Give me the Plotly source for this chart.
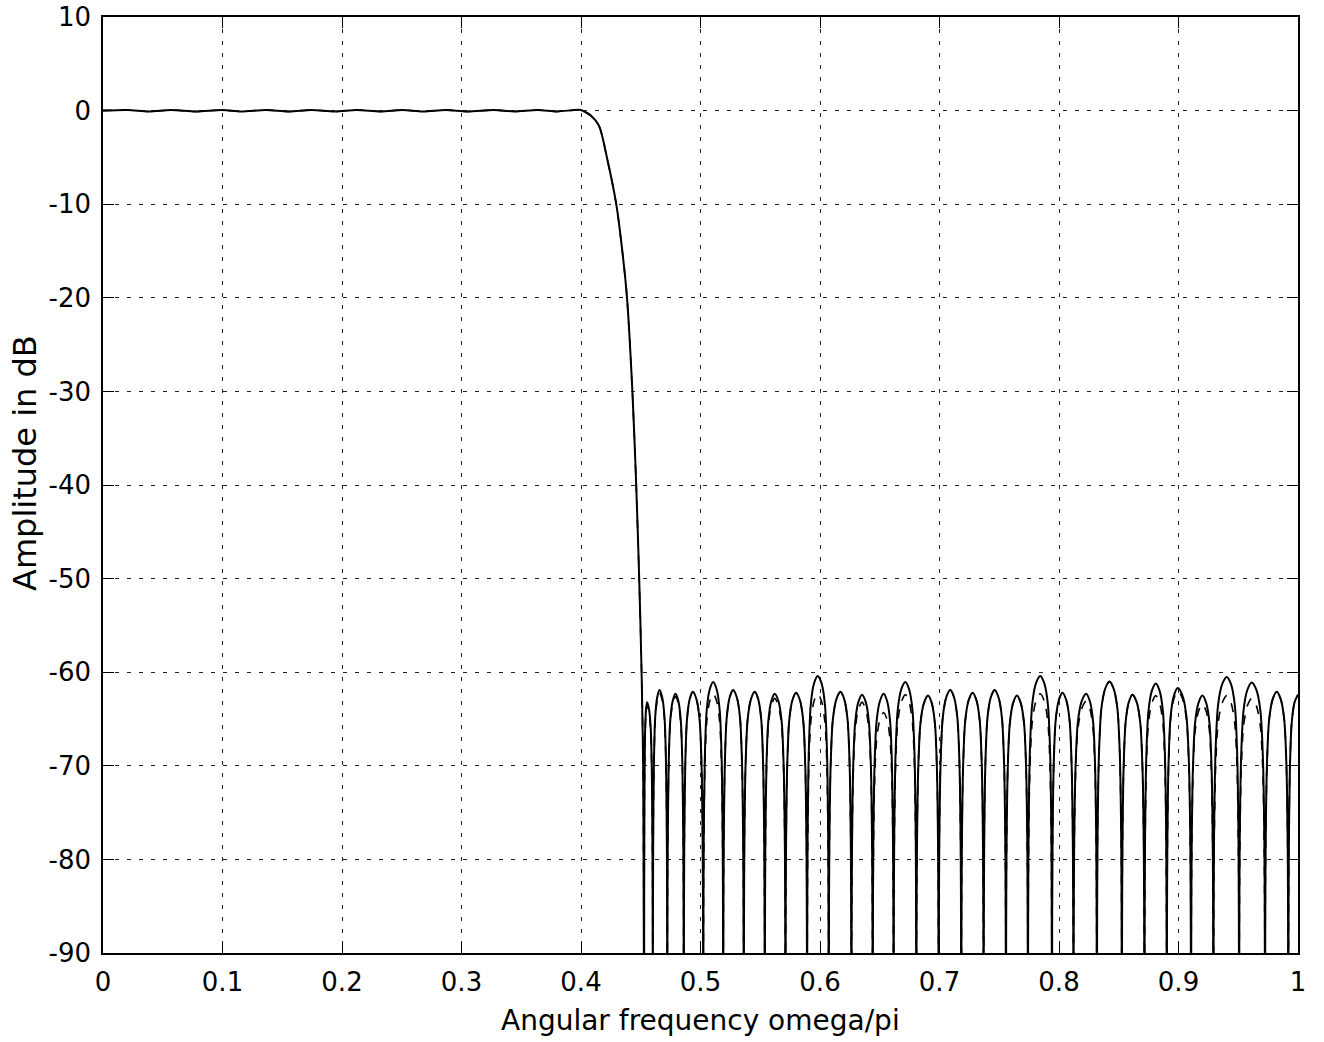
import plotly.graph_objects as go

# ---------------- data ----------------
# passband ripple extremes (normalised frequency, dB)
pass_x = [0.0, 0.0206, 0.0385, 0.0569, 0.0777, 0.1001, 0.1154, 0.1363, 0.1555,
          0.1747, 0.1940, 0.2124, 0.2324, 0.2506, 0.2676, 0.2868, 0.3049, 0.3272,
          0.3438, 0.3635, 0.3803, 0.3997]
pass_db = [0.0, 0.07, -0.09, 0.07, -0.09, 0.07, -0.09, 0.07, -0.09,
           0.07, -0.09, 0.07, -0.09, 0.07, -0.09, 0.07, -0.09, 0.07,
           -0.09, 0.07, -0.09, 0.07]

# transition band
trans_x = [0.4035, 0.4080, 0.4150, 0.4220, 0.4295, 0.4350, 0.4385, 0.4430,
           0.4462, 0.4487, 0.4507, 0.4520]
trans_db = [-0.15, -0.5, -1.6, -5.2, -10.0, -15.5, -20.0, -30.0,
            -40.0, -50.0, -60.0, -70.0]

# stopband: zero (null) positions, lobe peak positions and peak levels
null_x = [0.4528, 0.4601, 0.4722, 0.4860, 0.5023, 0.5190, 0.5362, 0.5538,
          0.5711, 0.5892, 0.6073, 0.6263, 0.6441, 0.6616, 0.6806, 0.6993,
          0.7182, 0.7369, 0.7556, 0.7740, 0.7941, 0.8121, 0.8317, 0.8526,
          0.8715, 0.8902, 0.9105, 0.9292, 0.9507, 0.9724, 0.9919]
peak_x = [0.4553, 0.4657, 0.4791, 0.4936, 0.5106, 0.5273, 0.5454, 0.5621,
          0.5800, 0.5981, 0.6171, 0.6352, 0.6533, 0.6714, 0.6904, 0.7090,
          0.7277, 0.7461, 0.7648, 0.7843, 0.8029, 0.8227, 0.8422, 0.8615,
          0.8810, 0.8994, 0.9200, 0.9404, 0.9613, 0.9822, 1.0]
solid_peak_db = [-63.2, -61.9, -62.3, -62.1, -61.05, -61.9, -62.1, -62.3,
                 -62.2, -60.4, -62.1, -62.4, -62.3, -61.05, -62.5, -61.9,
                 -62.2, -61.9, -62.5, -60.4, -62.2, -62.3, -61.0, -62.4,
                 -61.2, -61.7, -62.5, -60.5, -61.1, -62.1, -62.4]
dashed_peak_db = [-63.5, -62.2, -62.6, -62.1, -62.3, -61.9, -62.1, -62.8,
                  -62.2, -62.3, -62.1, -63.2, -64.3, -62.4, -62.5, -61.9,
                  -62.2, -61.9, -62.5, -62.3, -62.2, -63.1, -61.0, -62.4,
                  -62.5, -62.0, -63.4, -62.5, -62.8, -62.1, -62.4]
null_db = -100.0

# typical lobe profile: fraction of half-lobe width
# from the null, and dB below the lobe peak
lobe_frac = [0.02, 0.05, 0.16, 0.35, 0.65]
lobe_drop = [25.0, 17.0, 8.0, 3.0, 0.8]

x_ticks = [0, 0.1, 0.2, 0.3, 0.4, 0.5, 0.6, 0.7, 0.8, 0.9, 1]
x_tick_text = ["0", "0.1", "0.2", "0.3", "0.4", "0.5", "0.6", "0.7", "0.8", "0.9", "1"]
y_ticks = [-90, -80, -70, -60, -50, -40, -30, -20, -10, 0, 10]
y_tick_text = ["-90", "-80", "-70", "-60", "-50", "-40", "-30", "-20", "-10", "0", "10"]


def build(peaks):
    xs = list(pass_x) + list(trans_x)
    ys = list(pass_db) + list(trans_db)
    n = len(null_x)
    for i in range(n):
        a, p, v = null_x[i], peak_x[i], peaks[i]
        xs.append(a)
        ys.append(null_db)
        left = p - a
        for f, d in zip(lobe_frac, lobe_drop):
            xs.append(a + f * left)
            ys.append(v - d)
        xs.append(p)
        ys.append(v)
        if i + 1 < n:
            b = null_x[i + 1]
            right = b - p
            for f, d in zip(reversed(lobe_frac), reversed(lobe_drop)):
                xs.append(b - f * right)
                ys.append(v - d)
    return xs, ys


dx, dy = build(dashed_peak_db)
sx, sy = build(solid_peak_db)

fig = go.Figure()
fig.add_trace(go.Scatter(x=dx, y=dy, mode="lines",
                         line=dict(color="black", width=1.6, dash="dash",
                                   shape="spline", smoothing=0.8),
                         hoverinfo="skip", showlegend=False))
fig.add_trace(go.Scatter(x=sx, y=sy, mode="lines",
                         line=dict(color="black", width=2.0,
                                   shape="spline", smoothing=0.8),
                         hoverinfo="skip", showlegend=False))

font_family = "DejaVu Sans"
axis_common = dict(
    showline=True, linecolor="black", linewidth=1.5, mirror="ticks",
    ticks="inside", ticklen=11, tickwidth=1.2, tickcolor="black",
    showgrid=True, gridcolor="#222", gridwidth=1, griddash="4px,8px",
    zeroline=False,
    tickfont=dict(family=font_family, size=26, color="black"),
)

fig.update_xaxes(range=[0, 1], tickvals=x_ticks, ticktext=x_tick_text,
                 ticklabelstandoff=5, **axis_common)
fig.update_yaxes(range=[-90, 10], tickvals=y_ticks, ticktext=y_tick_text,
                 ticklabelstandoff=5, **axis_common)

fig.add_annotation(text="Angular frequency omega/pi",
                   xref="paper", yref="paper", x=0.5, y=-0.0716,
                   xanchor="center", yanchor="middle", showarrow=False,
                   font=dict(family=font_family, size=28, color="black"))
fig.add_annotation(text="Amplitude in dB", textangle=-90,
                   xref="paper", yref="paper", x=-0.0653, y=0.5235,
                   xanchor="center", yanchor="middle", showarrow=False,
                   font=dict(family=font_family, size=32, color="black"))

fig.update_layout(
    width=1324, height=1042,
    margin=dict(l=103, r=26, t=17, b=89, autoexpand=False),
    paper_bgcolor="white", plot_bgcolor="white",
    font=dict(family=font_family, color="black"),
)

fig.write_html("out.html")
